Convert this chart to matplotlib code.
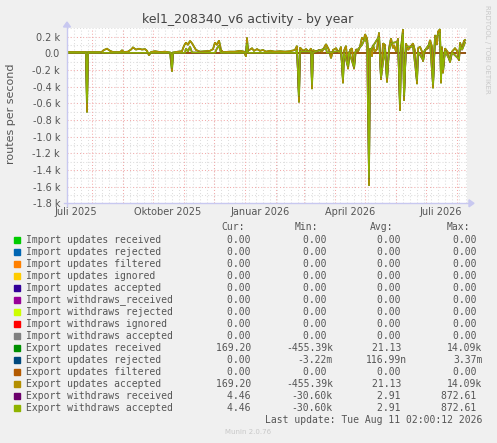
import numpy as np
import pandas as pd
import matplotlib
matplotlib.use("Agg")
import matplotlib.pyplot as plt
from matplotlib.lines import Line2D
from matplotlib.patches import Polygon, Rectangle

W, H = 497, 443
START = pd.Timestamp("2025-07-07 02:00")
END = pd.Timestamp("2026-08-11 02:00")

title = "kel1_208340_v6 activity - by year"
ylabel = "routes per second"

# ---- data (day offset from START, routes per second) ----
upd_days = [0, 19, 20, 21, 33, 34, 35, 37, 40, 43, 46, 53, 55, 57, 61, 64, 66, 69, 72, 75, 78, 80, 82, 84,
            88, 93, 98, 103, 105, 106, 111, 115, 117, 119, 121, 123, 125, 127, 129, 133, 138, 143, 146, 148,
            150, 152, 154, 156, 163, 168, 173, 177, 179, 180, 181, 185, 187, 190, 193, 196, 199, 203, 208,
            213, 218, 223, 228, 230, 232, 233, 236, 239, 242, 244, 245, 246, 249, 252, 255, 259, 262, 264,
            266, 269, 272, 274, 276, 277, 279, 281, 283, 285, 287, 289, 291, 293, 295, 297, 298, 300, 301,
            302, 303, 305, 306, 308, 310, 312, 314, 316, 318, 320, 322, 324, 326, 327, 329, 331, 333, 334,
            336, 337, 339, 341, 343, 346, 348, 350, 351, 353, 355, 356, 358, 361, 363, 365, 366, 368, 370,
            371, 373, 374, 375, 376, 378, 381, 383, 385, 388, 390, 392, 393, 395, 397, 398]
upd_vals = [15, 15, -710, 15, 15, np.nan, 20, 40, 55, 30, 15, 15, 35, 15, 20, 45, 70, 45, 55, 45, 50, 30, -25, 15,
            25, 15, 20, 10, -220, 10, 20, 25, 90, 130, 100, 150, 120, 80, 40, 20, 25, 30, 50, 130,
            100, 155, 40, 15, 20, 20, 30, 20, -40, 190, 30, 60, 30, 50, 30, 40, 20, 30, 20,
            25, 20, 25, 40, 90, -590, 70, 30, 50, 20, 60, -430, 40, 20, 40, 20, 110, 40, -60,
            40, 60, 10, 80, -360, 30, 90, -190, 40, 60, -190, 50, 20, 80, 190, 160, 230, 180, 60,
            -1590, 60, -40, 100, 20, 50, 250, -320, 120, 100, -350, 60, 180, 60, 100, 20, 180, -690, 60,
            290, -570, 120, 40, 70, 120, 30, -370, 60, 80, 20, -100, 40, 60, 160, 80, -420, 220, 100,
            260, 290, -360, 80, -240, 60, 10, -110, 20, 60, 30, -90, 130, 60, 150, 160]

wd_days = [0, 19, 20, 21, 33, 34, 35, 104, 105, 106, 118, 119, 121, 123, 125, 148, 150, 152, 154, 179, 180,
           181, 229, 230, 232, 233, 244, 245, 246, 259, 260, 274, 276, 277, 281, 282, 287, 288, 295, 298,
           300, 302, 303, 312, 314, 318, 320, 322, 324, 331, 333, 334, 336, 337, 339, 346, 350, 351, 356,
           357, 363, 366, 368, 371, 373, 374, 375, 376, 378, 383, 385, 392, 393, 395, 398]
wd_vals = [5, 5, -600, 5, 5, np.nan, 5, 5, -180, 5, 5, 60, 20, 80, 10, 5, 60, 90, 5, 5, 120,
           5, 5, 40, -520, 20, 20, -380, 10, 60, 5, 30, -320, 10, -160, 20, -170, 10, 100, 180,
           120, -1500, 30, 200, -290, 60, -300, 30, 120, 140, -620, 30, 240, -520, 80, 80, -330, 20, -80,
           20, 120, -380, 180, 220, 250, -320, 40, -200, 30, -90, 10, -70, 100, 40, 130]

zero_days = [0, 33, 34, 35, 398]
zero_vals = [0, 0, np.nan, 0, 0]

names = ["Import updates received", "Import updates rejected", "Import updates filtered",
         "Import updates ignored", "Import updates accepted", "Import withdraws_received",
         "Import withdraws rejected", "Import withdraws ignored", "Import withdraws accepted",
         "Export updates received", "Export updates rejected", "Export updates filtered",
         "Export updates accepted", "Export withdraws received", "Export withdraws accepted"]
colors = ["#00CC00", "#0066B3", "#FF8000", "#FFCC00", "#330099", "#990099", "#CCFF00", "#FF0000",
          "#808080", "#008F00", "#00487D", "#B35A00", "#B38F00", "#6B006B", "#8FB300"]
series_src = ["z"] * 9 + ["u", "z", "z", "u", "w", "w"]

cur = ["0.00"] * 9 + ["169.20", "0.00", "0.00", "169.20", "4.46", "4.46"]
mins = ["0.00"] * 9 + ["-455.39k", "-3.22m", "0.00", "-455.39k", "-30.60k", "-30.60k"]
avgs = ["0.00"] * 9 + ["21.13", "116.99n", "0.00", "21.13", "2.91", "2.91"]
maxs = ["0.00"] * 9 + ["14.09k", "3.37m", "0.00", "14.09k", "872.61", "872.61"]

yticks = list(range(-1800, 201, 200))
xlabels = ["Juli 2025", "Oktober 2025", "Januar 2026", "April 2026", "Juli 2026"]
xlabel_pos = ["2025-07-16", "2025-10-16", "2026-01-16", "2026-04-16", "2026-07-16"]

# ---- figure ----
fig = plt.figure(figsize=(W / 100, H / 100), dpi=100)
fig.patch.set_facecolor("#F0F0F0")

def fx(px):
    return px / W

def fy(py):
    return 1 - py / H

L, R, T, B = 67, 467, 28.3, 203.3
ax = fig.add_axes([fx(L), fy(B), (R - L) / W, (B - T) / H])
ax.set_facecolor("white")

def tdays(d):
    return START + pd.to_timedelta(np.asarray(d, dtype=float), unit="D")

ax.set_xlim(START, END)
ax.set_ylim(-1800, 300)

# grid
minor_col = "#DDDDDD"
major_col = "#F2AAAA"
dash = (0, (1, 2))
for v in range(-1800, 301, 100):
    ax.axhline(v, color=major_col if v % 200 == 0 else minor_col, lw=0.75, ls=dash, zorder=1)
wk = pd.date_range("2025-07-07", END, freq="7D")
for d in wk:
    ax.axvline(d, color=minor_col, lw=0.75, ls=dash, zorder=1)
ms = pd.date_range("2025-08-01", END, freq="MS")
for d in ms:
    ax.axvline(d, color=major_col, lw=0.75, ls=dash, zorder=1)

src = {"z": (zero_days, zero_vals), "u": (upd_days, upd_vals), "w": (wd_days, wd_vals)}
for name, col, s in zip(names, colors, series_src):
    dd, vv = src[s]
    ax.plot(tdays(dd), vv, color=col, lw=1.2, zorder=3, solid_joinstyle="miter")

for sp in ax.spines.values():
    sp.set_visible(False)
ax.set_yticks(yticks)
ax.set_yticklabels(["0.0" if v == 0 else f"{v/1000:.1f} k" for v in yticks])
ax.set_xticks(pd.to_datetime(xlabel_pos))
ax.set_xticklabels(xlabels)
ax.tick_params(axis="both", length=0, labelsize=7, labelcolor="#555555")
ax.tick_params(axis="y", pad=5)
ax.tick_params(axis="x", pad=3)

# axes lines with arrows
acol = "#C8C8F0"
fig.add_artist(Line2D([fx(64), fx(470)], [fy(B), fy(B)], color=acol, lw=1))
fig.add_artist(Polygon([[fx(469), fy(B - 3.5)], [fx(469), fy(B + 3.5)], [fx(474), fy(B)]],
                       closed=True, color=acol, transform=fig.transFigure))
fig.add_artist(Line2D([fx(L), fx(L)], [fy(206), fy(26)], color=acol, lw=1))
fig.add_artist(Polygon([[fx(L - 3.5), fy(27)], [fx(L + 3.5), fy(27)], [fx(L), fy(22)]],
                       closed=True, color=acol, transform=fig.transFigure))

# title & labels
fig.text(fx(248), fy(19), title, ha="center", va="center", fontsize=9, color="#444444")
fig.text(fx(11), fy(114), ylabel, ha="center", va="center", rotation=90, fontsize=8, color="#555555")
fig.text(fx(487), fy(5), "RRDTOOL / TOBI OETIKER", ha="center", va="top", rotation=270,
         fontsize=5, color="#C8C8C8")

# legend
mono = "DejaVu Sans Mono"
tc = "#555555"
for txt, xr in zip(["Cur:", "Min:", "Avg:", "Max:"], [245, 318.5, 393, 470]):
    fig.text(fx(xr), fy(227), txt, ha="right", va="center", fontsize=7, family=mono, color=tc)

def padsuf(s):
    return s if s[-1].isalpha() else s + " "

for i, (nm, col) in enumerate(zip(names, colors)):
    y = 240 + 12 * i
    fig.add_artist(Rectangle((fx(14), fy(y + 3)), 6 / W, 6 / H, color=col, transform=fig.transFigure))
    fig.text(fx(26.5), fy(y), nm, ha="left", va="center", fontsize=7, family=mono, color=tc)
    for vals, xr in zip([cur, mins, avgs, maxs], [256.8, 332.8, 406.8, 482.3]):
        fig.text(fx(xr), fy(y), padsuf(vals[i]), ha="right", va="center", fontsize=7,
                 family=mono, color=tc)

fig.text(fx(482), fy(420), "Last update: Tue Aug 11 02:00:12 2026", ha="right", va="center",
         fontsize=7, family=mono, color=tc)
fig.text(fx(248), fy(432), "Munin 2.0.76", ha="center", va="center", fontsize=5, color="#C8C8C8")

fig.savefig("out.png", dpi=100, facecolor=fig.get_facecolor())
